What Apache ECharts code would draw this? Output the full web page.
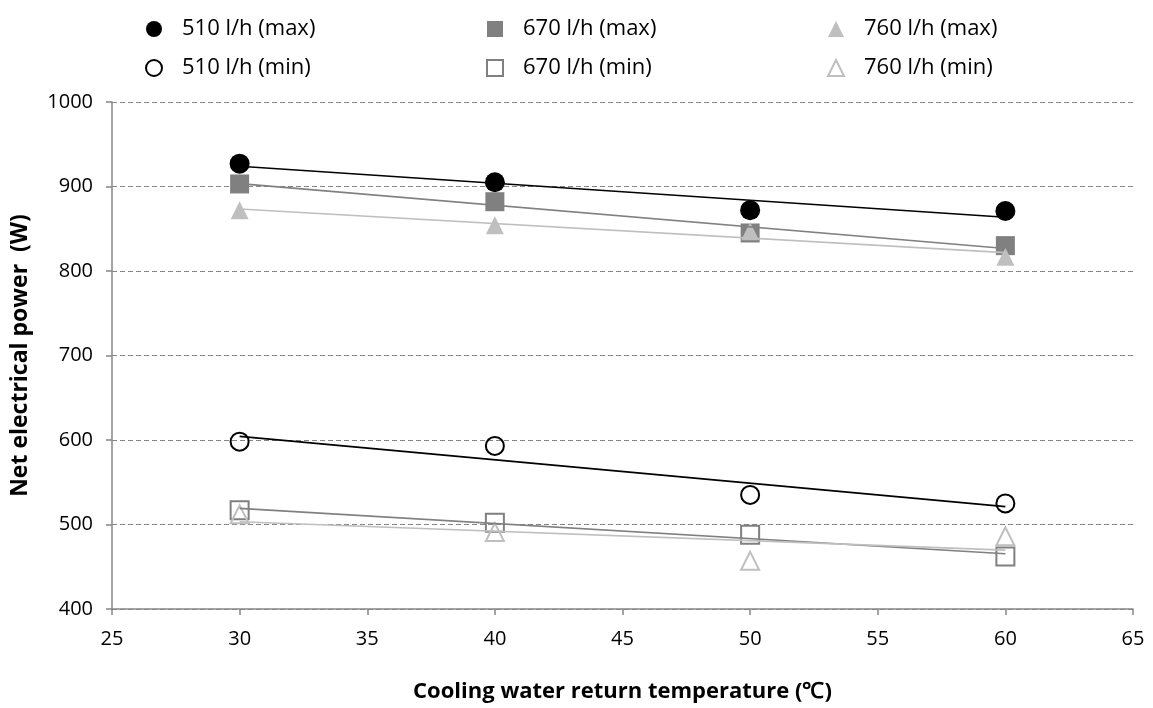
<!DOCTYPE html>
<html>
<head>
<meta charset="utf-8">
<script src="https://cdn.jsdelivr.net/npm/echarts@6/dist/echarts.min.js"></script>
<style>html,body{margin:0;padding:0;background:#fff}#c{width:1153px;height:708px}</style>
</head>
<body>
<div id="c"></div>
<script>
var temps = [30, 40, 50, 60];
var max510 = [927, 905, 872, 871];
var max670 = [903, 882, 845, 830];
var max760 = [872, 854, 847, 817];
var min510 = [598, 593, 535, 525];
var min670 = [517, 502, 488, 462];
var min760 = [512, 491, 457, 486];
var names = ['510 l/h (max)', '670 l/h (max)', '760 l/h (max)', '510 l/h (min)', '670 l/h (min)', '760 l/h (min)'];
var xTicks = [25, 30, 35, 40, 45, 50, 55, 60, 65];
var yTicks = [400, 500, 600, 700, 800, 900, 1000];

var FONT = "'Open Sans', sans-serif";

function pts(ys) { return temps.map(function (t, i) { return [t, ys[i]]; }); }
function trend(ys) {
  var n = temps.length, mx = 0, my = 0, sxy = 0, sxx = 0;
  for (var i = 0; i < n; i++) { mx += temps[i]; my += ys[i]; }
  mx /= n; my /= n;
  for (var j = 0; j < n; j++) { sxy += (temps[j] - mx) * (ys[j] - my); sxx += (temps[j] - mx) * (temps[j] - mx); }
  var b = sxy / sxx, a = my - b * mx;
  var x0 = temps[0], x1 = temps[n - 1];
  return [[x0, a + b * x0], [x1, a + b * x1]];
}

var BLACK = '#000000', GREY = '#808080', LIGHT = '#bfbfbf';

function scatterFilled(name, ys, symbol, size, color) {
  return { name: name, type: 'scatter', data: pts(ys), symbol: symbol, symbolSize: size,
    itemStyle: { color: color, opacity: 1 }, z: 3 };
}
function scatterHollow(name, ys, symbol, size, color) {
  return { name: name, type: 'scatter', data: pts(ys), symbol: symbol, symbolSize: size,
    itemStyle: { color: 'rgba(255,255,255,0)', borderColor: color, borderWidth: 2, opacity: 1 }, z: 3 };
}
function trendLine(ys, color) {
  return { type: 'line', data: trend(ys), symbol: 'none', silent: true,
    lineStyle: { color: color, width: 1.6 }, z: 4 };
}

function legendCol(left, items) {
  return {
    orient: 'vertical', left: left, top: 13, itemWidth: 16, itemHeight: 16, itemGap: 17,
    data: items, selectedMode: false,
    textStyle: { fontFamily: FONT, fontSize: 22, lineHeight: 22, color: '#000', padding: [0, 0, 0, 15] }
  };
}

var chart = echarts.init(document.getElementById('c'), null, { renderer: 'canvas' });
chart.setOption({
  animation: false,
  backgroundColor: '#ffffff',
  legend: [
    legendCol(140, [names[0], names[3]]),
    legendCol(481, [names[1], names[4]]),
    legendCol(822, [names[2], names[5]])
  ],
  grid: { left: 112, right: 20, top: 102, bottom: 92, containLabel: false },
  xAxis: {
    type: 'value', min: xTicks[0], max: xTicks[xTicks.length - 1], interval: 5,
    name: 'Cooling water return temperature (\u2103)', nameLocation: 'middle', nameGap: 72,
    nameTextStyle: { fontFamily: FONT, fontSize: 22, fontWeight: 'bold', color: '#000' },
    axisLine: { show: true, lineStyle: { color: '#868686', width: 1.5 } },
    axisTick: { show: true, length: 6, inside: false, lineStyle: { color: '#868686', width: 1.5 } },
    axisLabel: { fontFamily: FONT, fontSize: 20, color: '#000', margin: 20 },
    splitLine: { show: false }
  },
  yAxis: {
    type: 'value', min: yTicks[0], max: yTicks[yTicks.length - 1], interval: 100,
    name: 'Net electrical power  (W)', nameLocation: 'middle', nameGap: 80,
    nameTextStyle: { fontFamily: FONT, fontSize: 23, fontWeight: 'bold', color: '#000' },
    axisLine: { show: true, lineStyle: { color: '#868686', width: 1.5 } },
    axisTick: { show: true, length: 6, inside: false, lineStyle: { color: '#868686', width: 1.5 } },
    axisLabel: { fontFamily: FONT, fontSize: 20, color: '#000', margin: 19, formatter: function (v) { return String(v); } },
    splitLine: { show: true, lineStyle: { color: '#868686', type: [5, 3], width: 1.2 } }
  },
  series: [
    scatterFilled(names[0], max510, 'circle', 20, BLACK),
    scatterFilled(names[1], max670, 'rect', 19, GREY),
    scatterFilled(names[2], max760, 'triangle', 18, LIGHT),
    scatterHollow(names[3], min510, 'circle', 18, BLACK),
    scatterHollow(names[4], min670, 'rect', 18, GREY),
    scatterHollow(names[5], min760, 'triangle', 18, LIGHT),
    trendLine(max510, BLACK),
    trendLine(max670, GREY),
    trendLine(max760, LIGHT),
    trendLine(min510, BLACK),
    trendLine(min670, GREY),
    trendLine(min760, LIGHT)
  ]
});
</script>
</body>
</html>
